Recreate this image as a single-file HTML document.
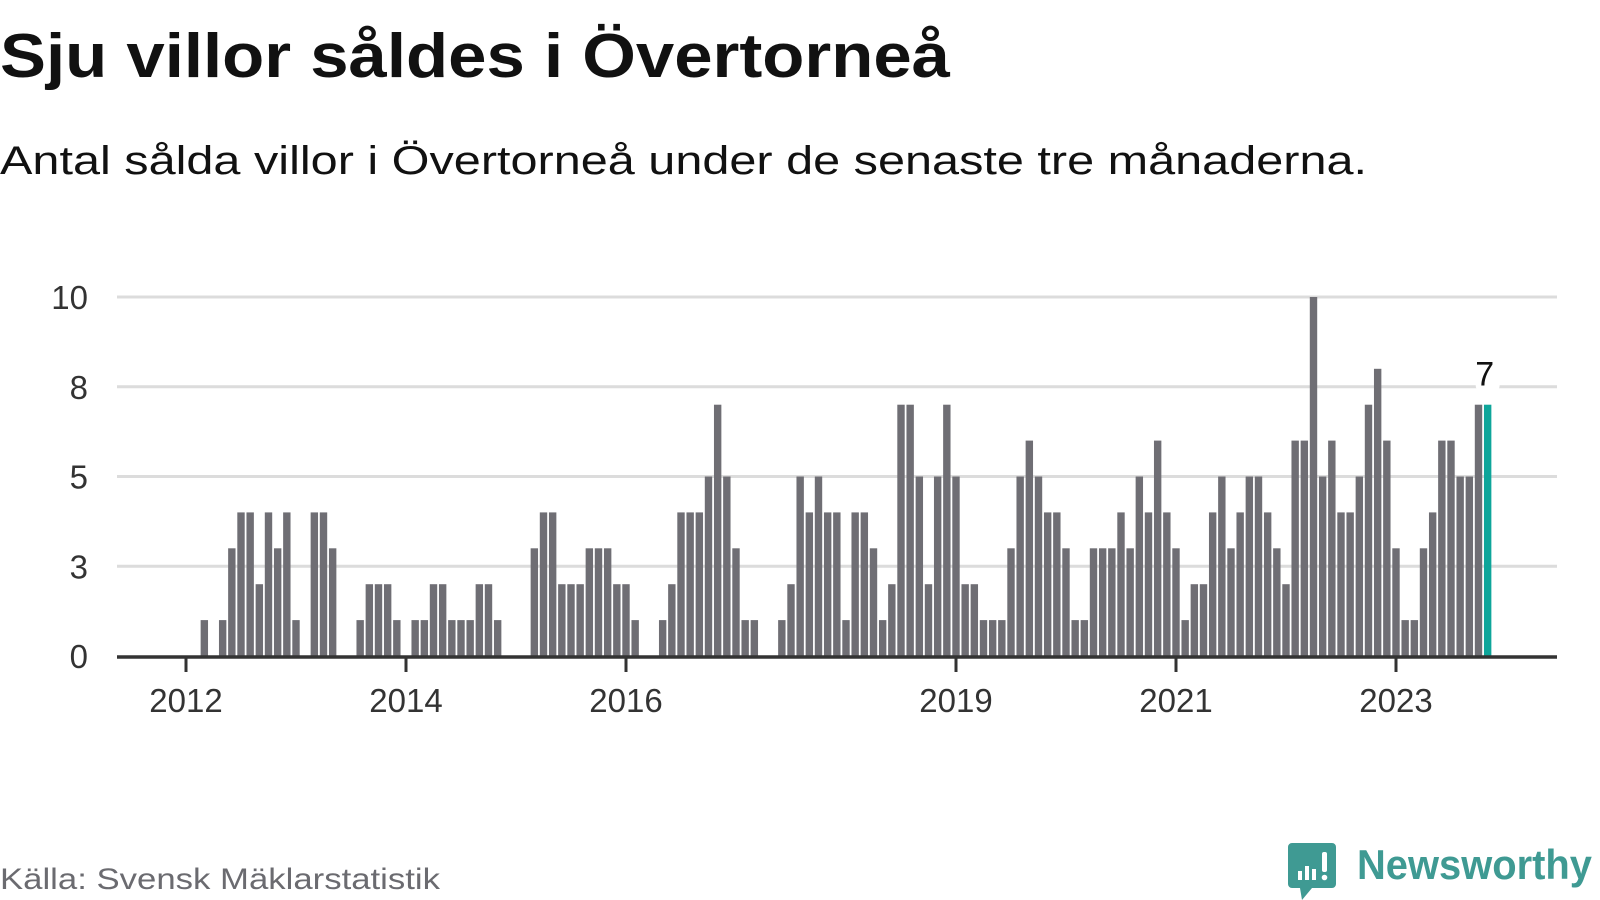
<!DOCTYPE html>
<html><head><meta charset="utf-8"><style>
html,body{margin:0;padding:0;background:#fff;}
svg{display:block;font-family:"Liberation Sans",sans-serif;}
</style></head><body>
<svg id="chart" width="1600" height="900" viewBox="0 0 1600 900">
<text x="0" y="77" font-size="62" font-weight="bold" fill="#111" textLength="950" lengthAdjust="spacingAndGlyphs">Sju villor såldes i Övertorneå</text>
<text x="0" y="174" font-size="40" fill="#111" textLength="1367" lengthAdjust="spacingAndGlyphs">Antal sålda villor i Övertorneå under de senaste tre månaderna.</text>
<g id="grid"></g>
<g id="bars"></g>
<g id="xaxis"></g>
<text x="0" y="889" font-size="30" fill="#6b6b70" textLength="440" lengthAdjust="spacingAndGlyphs">Källa: Svensk Mäklarstatistik</text>
<g>
<path d="M1292 843 h40 a4 4 0 0 1 4 4 v37 a4 4 0 0 1 -4 4 h-20 l-10 12 l-2 -12 h-8 a4 4 0 0 1 -4 -4 v-37 a4 4 0 0 1 4 -4z" fill="#3f9a93"/>
<rect x="1298" y="871" width="4" height="9" fill="#fff"/>
<rect x="1305" y="866" width="4" height="14" fill="#fff"/>
<rect x="1312" y="869" width="4" height="11" fill="#fff"/>
<rect x="1322" y="852" width="5" height="20" rx="2" fill="#fff"/>
<circle cx="1324.5" cy="877.5" r="2.8" fill="#fff"/>
<text x="1357" y="879" font-size="42" font-weight="bold" fill="#3f9a93" textLength="235" lengthAdjust="spacingAndGlyphs">Newsworthy</text>
</g>
</svg>
<script>
const values2012 = [0,0,1,0,1,3,4,4,2,4,3,4];
const values2013 = [1,0,4,4,3,0,0,1,2,2,2,1];
const values2014 = [0,1,1,2,2,1,1,1,2,2,1,0];
const values2015 = [0,0,3,4,4,2,2,2,3,3,3,2];
const values2016 = [2,1,0,0,1,2,4,4,4,5,7,5];
const values2017 = [3,1,1,0,0,1,2,5,4,5,4,4];
const values2018 = [1,4,4,3,1,2,7,7,5,2,5,7];
const values2019 = [5,2,2,1,1,1,3,5,6,5,4,4];
const values2020 = [3,1,1,3,3,3,4,3,5,4,6,4];
const values2021 = [3,1,2,2,4,5,3,4,5,5,4,3];
const values2022 = [2,6,6,10,5,6,4,4,5,7,8,6];
const values2023 = [3,1,1,3,4,6,6,5,5,7,7];
const startYear = 2012;
const yTicks = [0,2.5,5,7.5,10];
const yTickLabels = ["0","3","5","8","10"];
const xTickYears = [2012,2014,2016,2019,2021,2023];

const values = [].concat(values2012,values2013,values2014,values2015,values2016,values2017,values2018,values2019,values2020,values2021,values2022,values2023);
const NS = "http://www.w3.org/2000/svg";
const X0 = 186, PX_PER_MONTH = 110/12, Y0 = 656, PX_PER_UNIT = 35.9;
const AX_L = 117, AX_R = 1557;
function xScale(monthIndex){ return X0 + monthIndex*PX_PER_MONTH; }
function yScale(v){ return Y0 - v*PX_PER_UNIT; }
function mk(tag, attrs, parent){ const e=document.createElementNS(NS,tag); for(const k in attrs) e.setAttribute(k,attrs[k]); parent.appendChild(e); return e; }

const grid = document.getElementById('grid');
yTicks.forEach((t,i)=>{
  if(t>0){
    const l = mk('line',{x1:AX_L,x2:AX_R,y1:yScale(t),y2:yScale(t),stroke:'#dcdcdc','stroke-width':3},grid);
    
    
  }
  const tx = mk('text',{x:88,y:yScale(t)+12,'font-size':33,fill:'#333','text-anchor':'end'},grid);
  tx.textContent = yTickLabels[i];
  
  
});

const bars = document.getElementById('bars');
const BW = 7.4;
values.forEach((v,i)=>{
  if(v<=0) return;
  const last = i===values.length-1;
  const r = mk('rect',{x:xScale(i)-BW/2,y:yScale(v),width:BW,height:v*PX_PER_UNIT,fill:last?'#0ea59a':'#6f6e74'},bars);
  
  
});
const li = values.length-1;
const halo = mk('circle',{cx:xScale(li),cy:yScale(values[li])-20,r:12,fill:'#fff'},bars);


const lbl = mk('text',{x:xScale(li)-3,y:yScale(values[li])-19,'font-size':34,fill:'#111','text-anchor':'middle'},bars);
lbl.textContent = String(values[li]);



const xa = document.getElementById('xaxis');
const axl = mk('line',{x1:AX_L,x2:AX_R,y1:657,y2:657,stroke:'#333','stroke-width':3.5},xa);


xTickYears.forEach(y=>{
  const x = xScale((y-startYear)*12);
  const t = mk('line',{x1:x,x2:x,y1:657,y2:672,stroke:'#333','stroke-width':3},xa);
  
  
  const tx = mk('text',{x:x,y:712,'font-size':33,fill:'#333','text-anchor':'middle'},xa);
  tx.textContent = String(y);
  
  
});
</script>
</body></html>
